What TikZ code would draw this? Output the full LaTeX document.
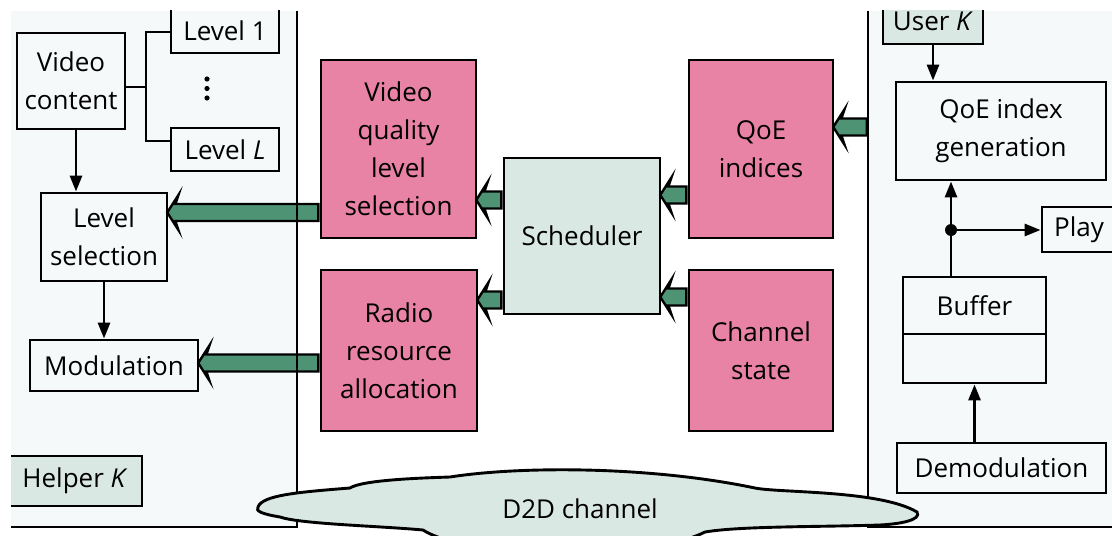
\documentclass[tikz,border=0pt]{standalone}
\usepackage{fontspec}
\setmainfont{Open Sans}
\usetikzlibrary{arrows.meta,shapes.arrows,calc}
\def\sc{.5pt}
\def\lw{1.45pt}
\definecolor{pinkc}{RGB}{233,131,165}
\definecolor{greyc}{RGB}{217,232,226}
\definecolor{arrowc}{RGB}{78,148,116}
\definecolor{panelc}{RGB}{245,249,250}
\newcommand\fatarrow[3]{%
  \path let \p1=(#1), \p2=(#2) in
    node [fatarr, minimum height=\x1-\x2, anchor=tail] at (#1 |- 0,#3) {};}
\tikzset{
  box/.style={draw, line width=\lw, align=center, inner sep=0pt},
  pinkbox/.style={box, fill=pinkc},
  greybox/.style={box, fill=greyc},
  conn/.style={line width=\lw, -{Triangle[length=8pt,width=6pt]}},
  fatarr/.style={single arrow, draw, fill=arrowc, line width=1.2pt,
    shape border rotate=180, inner xsep=0pt, inner ysep=3.65pt,
    single arrow head extend=4.5pt, single arrow tip angle=115,
    single arrow head indent=1.5pt},
}

\begin{document}
\begin{tikzpicture} [x=\sc, y=-\sc, font=\fontsize{13pt}{19pt}\selectfont]
\useasboundingbox (0,0) rectangle (1112,535);
\clip (11,11) rectangle (1112,535);
\fill [panelc] (11,11) rectangle (297,527);
\fill [panelc] (868,11) rectangle (1112,527);

% helper side
\node (vc) at (71,81) [box, minimum width=108*\sc, minimum height=96*\sc] {Video\\content};
\node (lvl1) at (225,31) [box, minimum width=108*\sc, minimum height=44*\sc] {Level 1};
\node (lvlL) at (225,149.5) [box, minimum width=108*\sc, minimum height=43*\sc] {Level \textit{L}};
\node (lvlsel) at (104,237) [box, minimum width=126*\sc, minimum height=88*\sc] {Level\\selection};
\node (mod) at (114,365.5) [box, minimum width=168*\sc, minimum height=51*\sc] {Modulation};
\node (helper) at (75,481) [greybox, minimum width=134*\sc, minimum height=50*\sc] {Helper \textit{K}};
\fill (207,79) circle (2.6);
\fill (207,88.5) circle (2.6);
\fill (207,98) circle (2.6);
\draw [line width=\lw] (vc.east |- 0,87) -- (146,87);
\draw [line width=\lw] (lvl1.west |- 0,32) -| (146,141) -- (lvlL.west |- 0,141);
\draw [conn] (vc.south -| 76,0) -- (lvlsel.north -| 76,0);
\draw [conn] (lvlsel.south) -- (lvlsel.south |- mod.north);

% scheduler
\node (vqls) at (398.5,149) [pinkbox, minimum width=155*\sc, minimum height=178*\sc] {Video\\quality\\level\\selection};
\node (rra) at (399,350.5) [pinkbox, minimum width=156*\sc, minimum height=161*\sc] {Radio\\resource\\allocation};
\node (sched) at (582,236) [greybox, minimum width=156*\sc, minimum height=156*\sc] {Scheduler};
\node (qoe) at (761,149) [pinkbox, minimum width=144*\sc, minimum height=178*\sc] {QoE\\indices};
\node (chan) at (761,350.5) [pinkbox, minimum width=144*\sc, minimum height=161*\sc] {Channel\\state};

% user side
\node (user) at (933,21) [greybox, minimum width=100*\sc, minimum height=46*\sc] {User \textit{K}};
\node (qoegen) at (1001,131) [box, minimum width=210*\sc, minimum height=98*\sc] {QoE index\\generation};
\node (junc) at (951,230) [circle, fill, inner sep=0pt, minimum size=12*\sc] {};
\node (play) at (1079,229.5) [box, minimum width=74*\sc, minimum height=45*\sc] {Play};
\node (buffer) at (974.5,330) [box, minimum width=143*\sc, minimum height=106*\sc] {};
\node (buftxt) at (974.5,305.5) {Buffer};
\node (demod) at (1001.5,468) [box, minimum width=209*\sc, minimum height=50*\sc] {Demodulation};
\draw [line width=\lw] (buffer.west |- 0,334) -- (buffer.east |- 0,334);
\draw [conn] (user.south) -- (user.south |- qoegen.north);
\draw [conn] (junc) -- (junc |- qoegen.south);
\draw [conn] (junc) -- (junc -| play.west);
\draw [line width=\lw] (buffer.north -| junc) -- (junc);
\draw [conn] (demod.north -| buffer) -- (buffer.south);
\coordinate (userside) at (868,127);

\fatarrow{sched.west}{vqls.east}{200}
\fatarrow{sched.west}{rra.east}{300}
\fatarrow{qoe.west}{sched.east}{195}
\fatarrow{chan.west}{sched.east}{297}
\fatarrow{userside}{qoe.east}{127}
\fatarrow{vqls.west}{lvlsel.east}{212.5}
\fatarrow{rra.west}{mod.east}{363}

\draw [line width=\lw] (297,11) -- (297,527) -- (11,527);
\draw [line width=\lw] (868,11) -- (868,527) -- (1112,527);

\draw [line width=\lw, fill=greyc] (258,507)
  .. controls (262,495) and (300,492) .. (350,488)
  .. controls (362,480) and (420,478) .. (450,477)
  .. controls (520,466) and (650,466) .. (755,488)
  .. controls (780,493) and (880,490) .. (917,512)
  .. controls (922,520) and (900,524) .. (880,525)
  .. controls (820,527) and (740,526) .. (705,532)
  .. controls (650,560) and (470,560) .. (423,530)
  .. controls (380,526) and (300,524) .. (280,517)
  .. controls (262,514) and (255,511) .. (258,507) -- cycle;
\node (d2d) at (580,509) {D2D channel};
\end{tikzpicture}
\end{document}
